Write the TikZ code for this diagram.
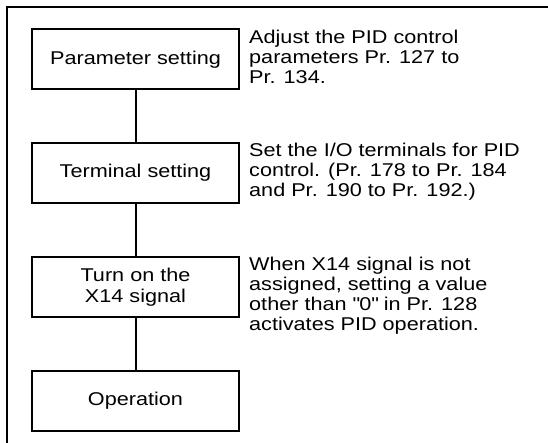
\documentclass[tikz,border=0pt]{standalone}
\usepackage{fontspec}
\setmainfont{Liberation Sans}[FakeStretch=1.17]
\usetikzlibrary{positioning}

\begin{document}
\begin{tikzpicture}[
    x=1pt, y=-1pt,
    stepbox/.style={draw, line width=2pt, minimum width=207pt, minimum height=60pt, inner sep=0pt, align=center, font=\fontsize{18.5}{21}\selectfont},
    note/.style={anchor=north west, inner sep=0pt, align=left, font=\fontsize{18.5}{20}\selectfont},
    link/.style={line width=2pt}
  ]
  \useasboundingbox (0,0) rectangle (548,443);

  % Frame
  \draw[line width=2pt] (7,443) -- (7,7) -- (548,7);

  % Steps
  \node[stepbox] (param) at (135.5, 59.5) {Parameter setting};
  \node[stepbox] (term) at (135.5, 173) {Terminal setting};
  \node[stepbox] (xsig) at (135.5, 287) {Turn on the\\X14 signal};
  \node[stepbox] (oper) at (135.5, 400.5) {Operation};

  \draw[link] (param) -- (term);
  \draw[link] (term) -- (xsig);
  \draw[link] (xsig) -- (oper);

  % Notes
  \node[note] (paramnote) at (249, 30) {Adjust the PID control\\parameters Pr. 127 to\\Pr. 134.};
  \node[note] (termnote) at (249, 143) {Set the I/O terminals for PID\\control. (Pr. 178 to Pr. 184\\and Pr. 190 to Pr. 192.)};
  \node[note] (xsignote) at (249, 257) {When X14 signal is not\\assigned, setting a value\\other than \textquotedbl 0\textquotedbl{} in Pr. 128\\activates PID operation.};
\end{tikzpicture}
\end{document}
